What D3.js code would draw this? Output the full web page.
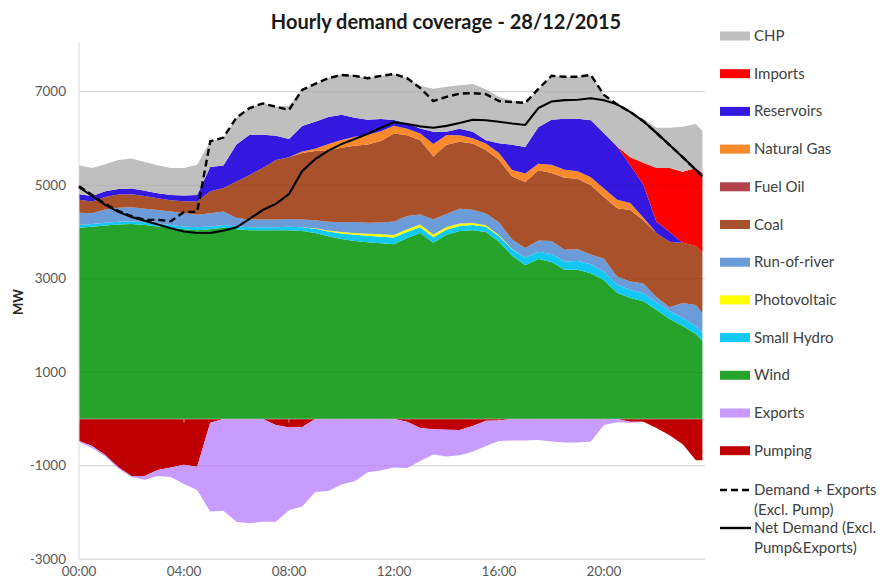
<!DOCTYPE html>
<html>
<head>
<meta charset="utf-8">
<script src="https://cdn.jsdelivr.net/npm/d3@7"></script>
<style>
  body { margin: 0; background: #fff; }
  svg { display: block; font-family: Lato, "Open Sans", sans-serif; }
</style>
</head>
<body>
<svg id="chart" width="884" height="581"></svg>
<script>
// Half-hourly generation mix (MW), 28/12/2015
const hours = [0,0.5,1,1.5,2,2.5,3,3.5,4,4.5,5,5.5,6,6.5,7,7.5,8,8.5,9,9.5,10,10.5,11,11.5,
  12,12.5,13,13.5,14,14.5,15,15.5,16,16.5,17,17.5,18,18.5,19,19.5,20,20.5,21,21.5,22,22.5,23,23.5,23.75];

const wind = [4090,4110,4140,4160,4170,4150,4120,4090,4060,4040,4060,4090,4060,4040,4040,4040,4040,4020,3980,3910,3850,3810,3780,3760,
  3740,3870,3980,3770,3940,4020,4040,4000,3790,3490,3290,3420,3360,3190,3190,3120,2970,2700,2590,2520,2330,2140,1990,1820,1670];
const smallHydro = [60,60,60,60,60,60,60,60,60,60,60,60,60,60,60,60,70,80,90,100,120,130,140,140,
  140,130,120,120,110,110,110,110,120,140,160,160,170,180,190,190,180,170,170,170,170,170,170,170,170];
const photovoltaic = [0,0,0,0,0,0,0,0,0,0,0,0,0,0,0,0,0,0,10,20,30,40,45,50,
  55,60,60,55,55,50,45,35,20,8,0,0,0,0,0,0,0,0,0,0,0,0,0,0,0];
const runOfRiver = [260,230,280,300,300,290,290,290,280,270,280,290,180,170,170,170,170,170,170,190,210,235,235,255,
  290,280,215,320,280,320,280,250,280,200,210,240,280,250,250,210,280,180,180,210,110,80,320,450,430];
const coal = [280,250,270,280,280,270,250,240,260,280,470,500,780,950,1100,1270,1320,1420,1480,1530,1590,1630,1670,1740,
  1880,1730,1590,1350,1480,1430,1420,1360,1330,1350,1410,1500,1450,1540,1510,1480,1320,1460,1530,1350,1370,1400,1290,1260,1280];
const fuelOil = [0,0,0,0,0,0,0,0,0,0,0,0,0,0,0,0,0,0,0,0,0,0,0,0,
  0,0,0,0,0,0,0,0,0,0,0,0,0,0,0,0,0,0,0,0,0,0,0,0,0];
const naturalGas = [0,0,0,0,0,0,0,0,0,0,0,0,0,0,0,0,0,30,50,130,170,190,210,210,
  170,140,140,270,210,140,110,140,150,140,180,140,180,170,160,170,180,180,150,60,0,0,0,0,0];
const reservoirs = [120,120,120,120,120,110,110,110,120,140,520,480,790,860,710,520,390,550,580,580,540,410,320,260,
  120,110,110,260,70,140,140,70,210,540,570,780,960,1090,1120,1220,1180,1140,810,700,240,210,0,0,0];
const imports = [0,0,0,0,0,0,0,0,0,0,0,0,0,0,0,0,0,0,0,0,0,0,0,0,
  0,0,0,0,0,0,0,0,0,0,0,0,0,0,0,0,0,0,170,470,1150,1370,1520,1670,1710];
const chp = [620,600,580,620,640,620,600,580,590,650,550,590,570,570,680,620,710,770,800,830,860,900,890,920,
  980,970,910,920,960,930,1020,1090,990,940,940,810,940,900,900,960,820,900,960,940,860,860,960,940,900];

// Consumption drawn below zero
const pumping = [470,580,770,1030,1220,1220,1090,1040,980,1020,80,0,0,0,0,130,180,170,0,0,0,0,0,0,
  0,60,190,220,230,235,150,40,30,0,0,0,0,0,0,0,0,0,60,60,190,350,540,880,880];
const exportsMW = [20,40,30,30,20,80,130,200,410,500,1900,1960,2200,2230,2200,2070,1770,1700,1560,1540,1400,1330,1140,1100,
  1040,990,710,540,570,540,550,540,440,460,460,450,480,500,500,480,130,70,20,0,0,0,0,0,0];

// Demand curves
const demandPlusExports = [4980,4790,4600,4450,4340,4260,4260,4230,4430,4430,5940,6020,6450,6650,6750,6680,6610,7040,7170,7290,7360,7340,7290,7340,
  7380,7290,7080,6800,6890,6960,6970,6950,6800,6780,6760,7060,7340,7320,7320,7360,6930,6730,6570,6370,6120,5860,5600,5330,5180];
const netDemand = [4960,4770,4580,4430,4320,4240,4160,4080,4010,3980,3980,4030,4100,4280,4470,4600,4810,5300,5560,5740,5880,5990,6100,6230,
  6350,6310,6260,6230,6270,6330,6400,6390,6360,6320,6290,6650,6790,6820,6830,6860,6820,6730,6570,6370,6120,5860,5600,5330,5180];

const yTickValues = [7000, 5000, 3000, 1000, -1000, -3000];
const xTickValues = [0, 4, 8, 12, 16, 20];
const xTickLabels = ["00:00", "04:00", "08:00", "12:00", "16:00", "20:00"];

const posKeys = ["Wind", "Small Hydro", "Photovoltaic", "Run-of-river", "Coal", "Fuel Oil", "Natural Gas", "Reservoirs", "Imports", "CHP"];
const negKeys = ["Pumping", "Exports"];
const colors = {
  "CHP": "#bfbfbf",
  "Imports": "#ff0000",
  "Reservoirs": "#3418e0",
  "Natural Gas": "#f88a2c",
  "Fuel Oil": "#b4424a",
  "Coal": "#a8512a",
  "Run-of-river": "#6b9bd8",
  "Photovoltaic": "#ffff00",
  "Small Hydro": "#12c8f5",
  "Wind": "#26a32a",
  "Exports": "#c89bff",
  "Pumping": "#c00000"
};
const legendOrder = ["CHP", "Imports", "Reservoirs", "Natural Gas", "Fuel Oil", "Coal", "Run-of-river", "Photovoltaic", "Small Hydro", "Wind", "Exports", "Pumping"];

const rows = hours.map((h, i) => ({
  hour: h,
  "Wind": wind[i], "Small Hydro": smallHydro[i], "Photovoltaic": photovoltaic[i],
  "Run-of-river": runOfRiver[i], "Coal": coal[i], "Fuel Oil": fuelOil[i],
  "Natural Gas": naturalGas[i], "Reservoirs": reservoirs[i], "Imports": imports[i], "CHP": chp[i],
  "Pumping": pumping[i], "Exports": exportsMW[i],
  demandPlusExports: demandPlusExports[i], netDemand: netDemand[i]
}));

const svg = d3.select("#chart");
const x = d3.scaleLinear().domain([0, 23.75]).range([79, 702.4]);
const y = d3.scaleLinear().domain([-3000, 8000]).range([559.25, 45]);
const plotRight = 705;

// gridlines
svg.append("g").selectAll("line").data(yTickValues).join("line")
  .attr("x1", 79).attr("x2", plotRight)
  .attr("y1", d => y(d)).attr("y2", d => y(d))
  .attr("stroke", "#d9d9d9").attr("stroke-width", 1);

// stacked areas
const posSeries = d3.stack().keys(posKeys)(rows);
const negSeries = d3.stack().keys(negKeys).value((d, k) => -d[k])(rows);
const area = d3.area()
  .x(d => x(d.data.hour))
  .y0(d => y(d[0]))
  .y1(d => y(d[1]));

svg.append("g").selectAll("path").data(posSeries.concat(negSeries)).join("path")
  .attr("d", area)
  .attr("fill", s => colors[s.key]);

// faint gridlines showing through the fills
svg.append("g").selectAll("line").data(yTickValues.filter(v => v > -3000)).join("line")
  .attr("x1", 79).attr("x2", 702.4)
  .attr("y1", d => y(d)).attr("y2", d => y(d))
  .attr("stroke", "#000").attr("stroke-opacity", 0.06).attr("stroke-width", 1);

// zero baseline with tick marks
svg.append("line").attr("x1", 79).attr("x2", plotRight)
  .attr("y1", y(0)).attr("y2", y(0))
  .attr("stroke", "#bfbfbf").attr("stroke-opacity", 0.6);
svg.append("g").selectAll("line").data(xTickValues).join("line")
  .attr("x1", d => x(d)).attr("x2", d => x(d))
  .attr("y1", y(0)).attr("y2", y(0) + 4)
  .attr("stroke", "#bfbfbf").attr("stroke-opacity", 0.7);

// axes lines
svg.append("line").attr("x1", 79).attr("x2", 79).attr("y1", 43).attr("y2", y(-3000))
  .attr("stroke", "#d9d9d9");
svg.append("line").attr("x1", 79).attr("x2", plotRight).attr("y1", y(-3000)).attr("y2", y(-3000))
  .attr("stroke", "#d9d9d9");

// demand lines
const line = key => d3.line().x(d => x(d.hour)).y(d => y(d[key]));
svg.append("path").datum(rows).attr("d", line("demandPlusExports"))
  .attr("fill", "none").attr("stroke", "#000").attr("stroke-width", 2.4)
  .attr("stroke-dasharray", "7,4");
svg.append("path").datum(rows).attr("d", line("netDemand"))
  .attr("fill", "none").attr("stroke", "#000").attr("stroke-width", 2.1);

// axis labels
svg.append("g").selectAll("text").data(yTickValues).join("text")
  .attr("x", 66).attr("y", d => y(d) + 4.5)
  .attr("text-anchor", "end").attr("font-size", 13.5).attr("fill", "#595959")
  .text(d => d);
svg.append("g").selectAll("text").data(xTickValues).join("text")
  .attr("x", d => x(d)).attr("y", 576)
  .attr("text-anchor", "middle").attr("font-size", 13.5).attr("fill", "#595959")
  .text((d, i) => xTickLabels[i]);

svg.append("text").attr("transform", "translate(23,302) rotate(-90)")
  .attr("text-anchor", "middle").attr("font-size", 13).attr("font-weight", "bold")
  .attr("fill", "#262626").text("MW");

svg.append("text").attr("x", 446).attr("y", 29)
  .attr("text-anchor", "middle").attr("font-size", 20).attr("font-weight", "bold")
  .attr("fill", "#1a1a1a").text("Hourly demand coverage - 28/12/2015");

// legend
const legend = svg.append("g");
const ly0 = 36, lstep = 37.7, lfs = 15;
legendOrder.forEach((k, i) => {
  const cy = ly0 + i * lstep;
  legend.append("rect").attr("x", 720).attr("y", cy - 4.5).attr("width", 30).attr("height", 9)
    .attr("fill", colors[k]);
  legend.append("text").attr("x", 754).attr("y", cy + 5)
    .attr("font-size", lfs).attr("fill", "#404040").text(k);
});
const lyD = 490, lyN = 528;
legend.append("line").attr("x1", 720).attr("x2", 751).attr("y1", lyD).attr("y2", lyD)
  .attr("stroke", "#000").attr("stroke-width", 2.4).attr("stroke-dasharray", "7,4");
legend.append("text").attr("x", 754).attr("y", lyD + 5).attr("font-size", lfs).attr("fill", "#404040").text("Demand + Exports");
legend.append("text").attr("x", 754).attr("y", lyD + 25).attr("font-size", lfs).attr("fill", "#404040").text("(Excl. Pump)");
legend.append("line").attr("x1", 720).attr("x2", 751).attr("y1", lyN).attr("y2", lyN)
  .attr("stroke", "#000").attr("stroke-width", 2.4);
legend.append("text").attr("x", 754).attr("y", lyN + 5).attr("font-size", lfs).attr("fill", "#404040").text("Net Demand (Excl.");
legend.append("text").attr("x", 754).attr("y", lyN + 25).attr("font-size", lfs).attr("fill", "#404040").text("Pump&Exports)");
</script>
</body>
</html>
